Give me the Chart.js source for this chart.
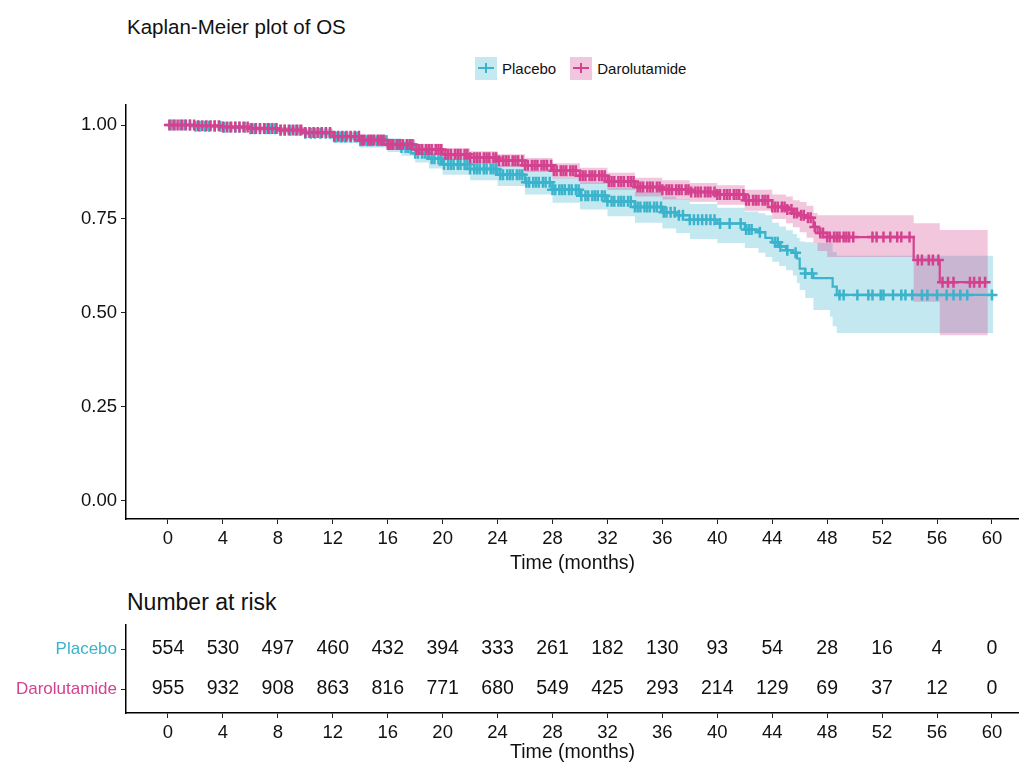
<!DOCTYPE html>
<html lang="en">
<head>
    <meta charset="UTF-8">
    <title>Kaplan-Meier plot of OS</title>
    <script src="https://cdn.jsdelivr.net/npm/chart.js"></script>
    <style>
        body {
            margin: 0;
            width: 1019px;
            height: 762px;
            overflow: hidden;
            background: #fff;
            font-family: "Liberation Sans", Arial, sans-serif;
            position: relative;
        }
        canvas { position: absolute; left: 0; }
        #kmChart { top: 0; }
        #riskChart { top: 580px; }
        .title {
            position: absolute;
            left: 127px;
            top: 15px;
            font-size: 20.5px;
            line-height: 24px;
            color: #111;
        }
        .risk-title {
            position: absolute;
            left: 127px;
            top: 588px;
            font-size: 23px;
            line-height: 28px;
            color: #111;
        }
        .legend {
            position: absolute;
            top: 57px;
            left: 475px;
            display: flex;
            align-items: center;
            font-size: 15px;
            color: #111;
        }
        .key {
            width: 22px;
            height: 23px;
            position: relative;
            margin-right: 5px;
        }
        .key::before, .key::after {
            content: '';
            position: absolute;
            background: var(--c);
        }
        .key::before { left: 3px; right: 3px; top: 10px; height: 2px; }
        .key::after { left: 10px; width: 2px; top: 6px; bottom: 7px; }
        .item { display: flex; align-items: center; margin-right: 14px; }
    </style>
</head>
<body>
    <div class="title">Kaplan-Meier plot of OS</div>
    <div class="legend">
        <div class="item"><div class="key" style="background:#c5e9f0;--c:#3bb3cc"></div>Placebo</div>
        <div class="item"><div class="key" style="background:#f2c6dd;--c:#d4418e"></div>Darolutamide</div>
    </div>
    <canvas id="kmChart" width="1019" height="580"></canvas>
    <div class="risk-title">Number at risk</div>
    <canvas id="riskChart" width="1019" height="182"></canvas>

    <script>
        // ticks
        const xTicks = [0, 4, 8, 12, 16, 20, 24, 28, 32, 36, 40, 44, 48, 52, 56, 60];
        const yTicks = [0, 0.25, 0.5, 0.75, 1];

        // Placebo KM estimate (months, survival, 95% CI)
        const placeboTime  = [0, 2, 4, 6, 8, 10, 12, 14, 16, 17, 18, 19, 20, 22, 24, 26, 28, 30, 32, 34, 36, 37, 38, 40, 42, 43, 43.5, 44, 44.5, 45, 45.5, 45.8, 46, 46.4, 47, 48.2, 48.4, 48.7, 60.1];
        const placeboSurv  = [1, 0.997, 0.994, 0.99, 0.986, 0.978, 0.968, 0.958, 0.948, 0.94, 0.925, 0.91, 0.895, 0.883, 0.868, 0.848, 0.828, 0.812, 0.797, 0.782, 0.768, 0.76, 0.748, 0.738, 0.722, 0.715, 0.70, 0.688, 0.677, 0.667, 0.66, 0.645, 0.618, 0.605, 0.593, 0.593, 0.57, 0.548, 0.548];
        const placeboLower = [1, 0.991, 0.987, 0.982, 0.976, 0.966, 0.952, 0.94, 0.928, 0.918, 0.9, 0.884, 0.868, 0.853, 0.838, 0.815, 0.793, 0.775, 0.757, 0.74, 0.725, 0.713, 0.697, 0.686, 0.673, 0.66, 0.649, 0.636, 0.625, 0.614, 0.6, 0.58, 0.561, 0.54, 0.508, 0.49, 0.465, 0.447, 0.447];
        const placeboUpper = [1, 1, 1, 0.997, 0.995, 0.99, 0.982, 0.974, 0.965, 0.958, 0.948, 0.935, 0.92, 0.908, 0.895, 0.878, 0.86, 0.848, 0.835, 0.822, 0.81, 0.803, 0.79, 0.78, 0.77, 0.765, 0.76, 0.74, 0.73, 0.72, 0.71, 0.70, 0.69, 0.688, 0.686, 0.686, 0.662, 0.652, 0.652];
        const placeboCensor = [0.2, 0.5, 0.9, 1.2, 1.6, 2.0, 2.3, 2.7, 3.0, 3.4, 3.8, 4.1, 4.5, 4.9, 5.2, 5.6, 6.0, 6.3, 6.7, 7.1, 7.4, 7.8, 8.2, 8.5, 8.9, 9.3, 9.6, 10.0, 10.4, 10.7, 11.1, 11.5, 11.8, 12.2, 12.6, 12.9, 13.3, 13.7,
            14.0, 14.2, 14.5, 14.7, 14.9, 15.2, 15.4, 15.6, 15.9, 16.1, 16.3, 16.6, 16.8, 17.0, 17.3, 17.5, 17.7, 18.0, 18.2, 18.5, 18.7, 18.9, 19.2, 19.4, 19.7, 19.9, 20.1, 20.4, 20.6, 20.8, 21.1, 21.3, 21.6, 21.8, 22.0, 22.3, 22.5, 22.7, 23.0, 23.2, 23.5, 23.7, 23.9, 24.2, 24.4, 24.7, 24.9, 25.1, 25.4, 25.6, 25.8, 26.1, 26.3, 26.6, 26.8, 27.0, 27.3, 27.5, 27.8, 28.0, 28.2, 28.5, 28.7, 28.9, 29.2, 29.4, 29.7, 29.9, 30.1, 30.4, 30.6, 30.9, 31.1, 31.3, 31.6, 31.8, 32.0, 32.3, 32.5, 32.8, 33.0, 33.2, 33.5, 33.7, 34.0, 34.2, 34.4, 34.7, 34.9, 35.1, 35.4, 35.6, 35.9, 36.1, 36.3, 36.6, 36.9, 37.2, 37.5, 38.0, 38.3, 38.6, 38.9, 39.2, 39.5, 39.8, 40.2,
            40.9, 41.7, 42.1, 42.3, 42.5, 43.1, 44.2, 44.4, 44.6, 45.1, 45.7, 46.4, 46.9, 48.9, 49.2, 50.2, 51.0, 51.3, 51.9, 52.1, 52.8, 53.4, 53.7, 54.2, 54.9, 55.3, 56.0, 56.7, 57.2, 57.7, 58.2, 60.0];

        // Darolutamide KM estimate
        const daroTime  = [0, 2, 4, 6, 8, 10, 12, 14, 16, 18, 20, 22, 24, 26, 28, 30, 32, 34, 36, 38, 40, 42, 44, 45, 45.5, 46, 46.5, 47, 47.3, 48, 54.3, 56.2, 59.7];
        const daroSurv  = [1, 0.998, 0.995, 0.991, 0.987, 0.98, 0.97, 0.96, 0.948, 0.935, 0.922, 0.913, 0.905, 0.893, 0.878, 0.865, 0.85, 0.835, 0.828, 0.822, 0.815, 0.80, 0.782, 0.775, 0.766, 0.76, 0.753, 0.729, 0.713, 0.702, 0.641, 0.582, 0.582];
        const daroLower = [1, 0.995, 0.99, 0.985, 0.98, 0.972, 0.96, 0.95, 0.936, 0.922, 0.907, 0.897, 0.888, 0.875, 0.858, 0.843, 0.827, 0.81, 0.802, 0.796, 0.788, 0.772, 0.75, 0.739, 0.728, 0.715, 0.70, 0.686, 0.665, 0.649, 0.53, 0.441, 0.441];
        const daroUpper = [1, 1, 1, 0.997, 0.994, 0.988, 0.98, 0.972, 0.962, 0.95, 0.938, 0.93, 0.922, 0.912, 0.898, 0.886, 0.873, 0.86, 0.853, 0.846, 0.84, 0.828, 0.815, 0.81, 0.80, 0.795, 0.785, 0.766, 0.76, 0.76, 0.739, 0.721, 0.721];
        const daroCensor = [0.1, 0.4, 0.7, 1.0, 1.3, 1.6, 1.9, 2.2, 2.5, 2.8, 3.1, 3.4, 3.7, 4.0, 4.3, 4.6, 4.9, 5.2, 5.5, 5.8, 6.1, 6.4, 6.7, 7.0, 7.3, 7.6, 7.9, 8.2, 8.5, 8.8, 9.1, 9.4, 9.7, 10.0, 10.3, 10.6, 10.9, 11.2, 11.5, 11.8, 12.1, 12.4, 12.7, 13.0, 13.3, 13.6, 13.9,
            14.1, 14.3, 14.6, 14.8, 15.0, 15.3, 15.5, 15.7, 16.0, 16.2, 16.4, 16.7, 16.9, 17.1, 17.4, 17.6, 17.8, 18.1, 18.3, 18.5, 18.8, 19.0, 19.2, 19.5, 19.7, 19.9, 20.2, 20.4, 20.6, 20.9, 21.1, 21.3, 21.6, 21.8, 22.0, 22.3, 22.5, 22.7, 23.0, 23.2, 23.4, 23.7, 23.9, 24.1, 24.4, 24.6, 24.8, 25.1, 25.3, 25.5, 25.8, 26.0, 26.2, 26.5, 26.7, 26.9, 27.2, 27.4, 27.6, 27.9, 28.1, 28.3, 28.6, 28.8, 29.0, 29.3, 29.5, 29.7, 30.0, 30.2, 30.4, 30.7, 30.9, 31.1, 31.4, 31.6, 31.8, 32.1, 32.3, 32.5, 32.8, 33.0, 33.2, 33.5, 33.7, 33.9, 34.2, 34.4, 34.6, 34.9, 35.1, 35.3, 35.6, 35.8, 36.0, 36.3, 36.5, 36.7, 37.0, 37.2, 37.4, 37.7, 37.9, 38.1, 38.4, 38.6, 38.8, 39.1, 39.3, 39.5, 39.8, 40.0, 40.2, 40.5, 40.7, 40.9, 41.2, 41.4, 41.6, 41.9, 42.1, 42.3, 42.6, 42.8, 43.0, 43.3, 43.5, 43.7, 44.0, 44.2, 44.4, 44.7, 44.9, 45.1, 45.4, 45.6, 45.8, 46.1, 46.3, 46.6, 46.8, 47.1,
            47.5, 47.7, 48.0, 48.2, 48.5, 48.7, 48.9, 49.2, 49.4, 49.6, 49.9, 51.3, 51.6, 52.1, 52.6, 53.1, 53.4, 54.0, 54.6, 54.9, 55.4, 55.7, 56.1, 56.4, 56.8, 57.2, 58.4, 58.7, 59.1, 59.5];

        // number at risk
        const riskTimes = [0, 4, 8, 12, 16, 20, 24, 28, 32, 36, 40, 44, 48, 52, 56, 60];
        const riskPlacebo = [554, 530, 497, 460, 432, 394, 333, 261, 182, 130, 93, 54, 28, 16, 4, 0];
        const riskDaro = [955, 932, 908, 863, 816, 771, 680, 549, 425, 293, 214, 129, 69, 37, 12, 0];
        const groups = ['Darolutamide', 'Placebo'];

        const tealLine = '#3bb3cc', tealFill = 'rgba(59,179,204,0.3)';
        const pinkLine = '#d4418e', pinkFill = 'rgba(212,65,142,0.3)';
        const FONT = "'Liberation Sans', Arial, sans-serif";

        // step-function path: hold previous value until the next time, then drop
        function stepPts(xs, ys) {
            const out = [{ x: xs[0], y: ys[0] }];
            for (let i = 1; i < xs.length; i++) {
                out.push({ x: xs[i], y: ys[i - 1] }, { x: xs[i], y: ys[i] });
            }
            return out;
        }
        // survival value at a censor time
        function survAt(times, surv, t) {
            let v = surv[0];
            for (let i = 0; i < times.length; i++) if (times[i] <= t) v = surv[i];
            return v;
        }
        const censorPts = (c, times, surv) => c.map(t => ({ x: t, y: survAt(times, surv, t) }));

        const xMin = -3.058, xMax = 61.97;

        function xScale(height, titlePad) {
            return {
                type: 'linear', min: xMin, max: xMax,
                afterBuildTicks: s => { s.ticks = xTicks.map(v => ({ value: v })); },
                afterFit: s => { s.height = height; },
                grid: { display: true, drawOnChartArea: false, drawTicks: true, tickLength: 5, color: '#222', lineWidth: 1 },
                border: { display: true, color: '#000', width: 1.5 },
                ticks: { padding: 4, color: '#111', maxRotation: 0, font: { family: FONT, size: 18.5 } },
                title: { display: true, text: 'Time (months)', color: '#111', padding: { top: 0, bottom: titlePad },
                         font: { family: FONT, size: 19.5, lineHeight: 1 } }
            };
        }

        const band = (data, color, fill, order) => ({
            data: data, borderWidth: 0, pointRadius: 0,
            backgroundColor: color, fill: fill, order: order
        });

        new Chart(document.getElementById('kmChart'), {
            type: 'line',
            data: {
                datasets: [
                    band(stepPts(placeboTime, placeboUpper), tealFill, 1, 5),
                    band(stepPts(placeboTime, placeboLower), tealFill, false, 5),
                    band(stepPts(daroTime, daroUpper), pinkFill, 3, 4),
                    band(stepPts(daroTime, daroLower), pinkFill, false, 4),
                    { data: stepPts(placeboTime, placeboSurv), borderColor: tealLine, borderWidth: 2.2, pointRadius: 0, fill: false, order: 3 },
                    { data: stepPts(daroTime, daroSurv), borderColor: pinkLine, borderWidth: 2.2, pointRadius: 0, fill: false, order: 2 },
                    { data: censorPts(placeboCensor, placeboTime, placeboSurv), showLine: false, pointStyle: 'cross', pointRadius: 5.5, pointBorderWidth: 2.5, pointBorderColor: tealLine, order: 1 },
                    { data: censorPts(daroCensor, daroTime, daroSurv), showLine: false, pointStyle: 'cross', pointRadius: 5.5, pointBorderWidth: 2.5, pointBorderColor: pinkLine, order: 0 }
                ]
            },
            options: {
                responsive: false,
                animation: false,
                events: [],
                layout: { autoPadding: false, padding: { top: 105, left: 0, right: 0, bottom: 0 } },
                plugins: { legend: { display: false }, tooltip: { enabled: false } },
                scales: {
                    x: xScale(61, 7),
                    y: {
                        type: 'linear', min: -0.0479, max: 1.0532,
                        afterBuildTicks: s => { s.ticks = yTicks.map(v => ({ value: v })); },
                        afterFit: s => { s.width = 126; },
                        grid: { display: true, drawOnChartArea: false, drawTicks: true, tickLength: 5, color: '#222', lineWidth: 1 },
                        border: { display: true, color: '#000', width: 1.5 },
                        ticks: { padding: 4, color: '#111', font: { family: FONT, size: 18.5 }, callback: v => v.toFixed(2) }
                    }
                }
            }
        });

        const riskLabels = {
            id: 'riskLabels',
            afterDatasetsDraw(chart) {
                const ctx = chart.ctx;
                const lists = [riskPlacebo, riskDaro];
                ctx.save();
                ctx.font = '19.5px ' + FONT;
                ctx.fillStyle = '#111';
                ctx.textAlign = 'center';
                ctx.textBaseline = 'middle';
                lists.forEach((list, i) => {
                    chart.getDatasetMeta(i).data.forEach((el, j) => ctx.fillText(String(list[j]), el.x, el.y));
                });
                ctx.restore();
            }
        };

        new Chart(document.getElementById('riskChart'), {
            type: 'line',
            data: {
                datasets: [
                    { data: riskTimes.map(t => ({ x: t, y: 2 })), showLine: false, pointRadius: 0 },
                    { data: riskTimes.map(t => ({ x: t, y: 1 })), showLine: false, pointRadius: 0 }
                ]
            },
            options: {
                responsive: false,
                animation: false,
                events: [],
                layout: { autoPadding: false, padding: { top: 45, left: 0, right: 0, bottom: 0 } },
                plugins: { legend: { display: false }, tooltip: { enabled: false } },
                scales: {
                    x: xScale(49, 0),
                    y: {
                        type: 'linear', min: 0.4, max: 2.6,
                        afterBuildTicks: s => { s.ticks = [1, 2].map(v => ({ value: v })); },
                        afterFit: s => { s.width = 126; },
                        grid: { display: true, drawOnChartArea: false, drawTicks: true, tickLength: 5, color: '#222', lineWidth: 1 },
                        border: { display: true, color: '#000', width: 1.5 },
                        ticks: {
                            padding: 4, font: { family: FONT, size: 17 },
                            color: c => (c.tick && c.tick.value === 2) ? tealLine : pinkLine,
                            callback: v => groups[v - 1]
                        }
                    }
                }
            },
            plugins: [riskLabels]
        });
    </script>
</body>
</html>
